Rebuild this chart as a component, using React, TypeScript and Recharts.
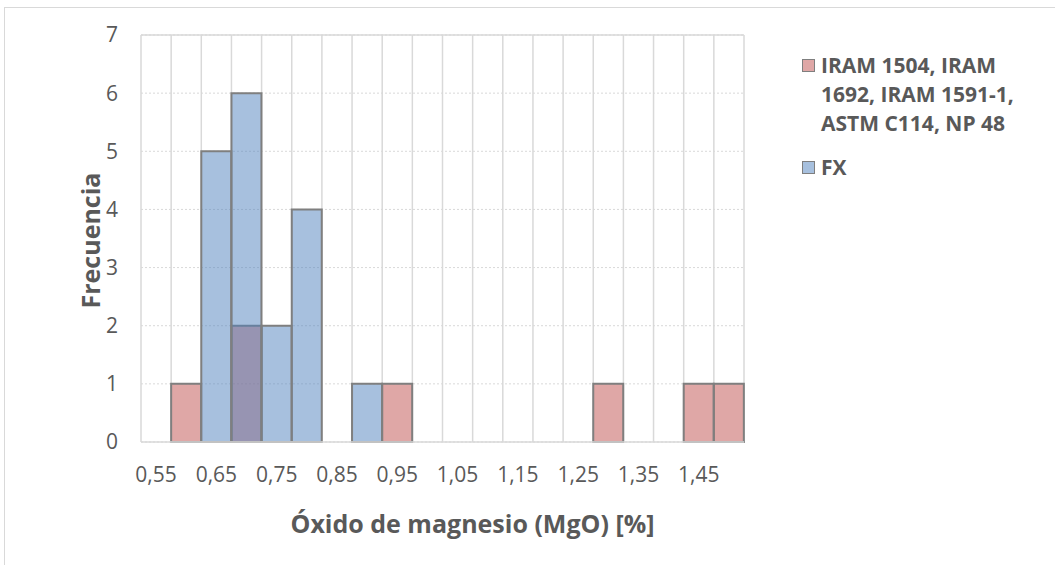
import {
  BarChart,
  Bar,
  XAxis,
  YAxis,
  CartesianGrid,
  ReferenceLine,
} from "recharts";

// bin centres (MgO %), step 0.05
const bins = [
  0.55, 0.6, 0.65, 0.7, 0.75, 0.8, 0.85, 0.9, 0.95, 1.0,
  1.05, 1.1, 1.15, 1.2, 1.25, 1.3, 1.35, 1.4, 1.45, 1.5,
];
const iramCounts = [0, 1, 0, 2, 0, 0, 0, 0, 1, 0, 0, 0, 0, 0, 0, 1, 0, 0, 1, 1];
const fxCounts = [0, 0, 5, 6, 2, 4, 0, 1, 0, 0, 0, 0, 0, 0, 0, 0, 0, 0, 0, 0];
const yTicks = [0, 1, 2, 3, 4, 5, 6, 7];

const IRAM_NAME = "IRAM 1504, IRAM 1692, IRAM 1591-1, ASTM C114, NP 48";
const FX_NAME = "FX";

const data = bins.map((b, i) => ({
  bin: b,
  iram: iramCounts[i],
  fx: fxCounts[i],
}));

const TEXT = "#595959";
const GRID = "#d9d9d9";
const FONT = "'Open Sans', sans-serif";

const fmt = (v: number) => v.toFixed(2).replace(".", ",");

function LegendBox() {
  const items = [
    { color: "#C0504D", lines: ["IRAM 1504, IRAM", "1692, IRAM 1591-1,", "ASTM C114, NP 48"] },
    { color: "#4F81BD", lines: [FX_NAME] },
  ];
  return (
    <div
      style={{
        position: "absolute",
        left: 802,
        top: 51,
        width: 250,
        fontFamily: FONT,
        fontWeight: 700,
        fontSize: 21,
        color: TEXT,
        lineHeight: "29px",
      }}
    >
      {items.map((it, k) => (
        <div key={k} style={{ display: "flex", alignItems: "flex-start", marginBottom: 15 }}>
          <span
            style={{
              display: "inline-block",
              width: 11,
              height: 11,
              marginTop: 8,
              marginRight: 6,
              background: it.color + "80",
              border: "1.5px solid #7f7f7f",
              flex: "none",
            }}
          />
          <div>
            {it.lines.map((l) => (
              <div key={l}>{l}</div>
            ))}
          </div>
        </div>
      ))}
    </div>
  );
}

export default function App() {
  return (
    <div style={{ position: "absolute", left: 0, top: 0, width: 1055, height: 565, overflow: "hidden", background: "#fff" }}>
      <div
        style={{
          position: "absolute",
          left: 4,
          top: 7,
          width: 1100,
          height: 600,
          border: `1px solid ${GRID}`,
        }}
      />
      <BarChart
        width={1055}
        height={565}
        data={data}
        margin={{ top: 35, right: 311, bottom: 93, left: 0 }}
        barCategoryGap={0}
        barGap={0}
        style={{ position: "absolute", left: 0, top: 0, fontFamily: FONT }}
      >
        <CartesianGrid
          xAxisId="a"
          horizontal={false}
          stroke={GRID}
          strokeWidth={1.5}
          verticalCoordinatesGenerator={({ offset }: any) =>
            bins.concat([0]).map((_, i) => offset.left + (i * offset.width) / bins.length)
          }
        />
        <CartesianGrid
          xAxisId="a"
          vertical={false}
          stroke={GRID}
          strokeDasharray="2 2"
        />
        <XAxis
          xAxisId="a"
          dataKey="bin"
          height={30}
          tickFormatter={fmt}
          interval={1}
          tickLine={false}
          axisLine={{ stroke: GRID, strokeWidth: 1.5 }}
          tick={{ fill: TEXT, fontSize: 21 }}
          tickMargin={19}
          label={{
            value: "Óxido de magnesio (MgO) [%]",
            position: "insideBottom",
            offset: -61,
            dx: 30,
            fill: TEXT,
            fontSize: 25,
            fontWeight: 700,
          }}
        />
        <XAxis xAxisId="b" dataKey="bin" hide height={0} />
        <YAxis
          domain={[0, 7]}
          ticks={yTicks}
          width={141}
          tickLine={false}
          axisLine={false}
          tick={{ fill: TEXT, fontSize: 21 }}
          tickMargin={17}
          label={{
            value: "Frecuencia",
            angle: -90,
            position: "insideLeft",
            offset: 91,
            dy: 2,
            fill: TEXT,
            fontSize: 25,
            fontWeight: 700,
            style: { textAnchor: "middle" },
          }}
        />
        <ReferenceLine xAxisId="a" y={7} stroke={GRID} strokeWidth={1.5} />
        <Bar
          xAxisId="a"
          dataKey="iram"
          name={IRAM_NAME}
          fill="#C0504D"
          fillOpacity={0.5}
          stroke="#7f7f7f"
          strokeWidth={2}
          isAnimationActive={false}
        />
        <Bar
          xAxisId="b"
          dataKey="fx"
          name={FX_NAME}
          fill="#4F81BD"
          fillOpacity={0.5}
          stroke="#7f7f7f"
          strokeWidth={2}
          isAnimationActive={false}
        />
      </BarChart>
      <LegendBox />
    </div>
  );
}
